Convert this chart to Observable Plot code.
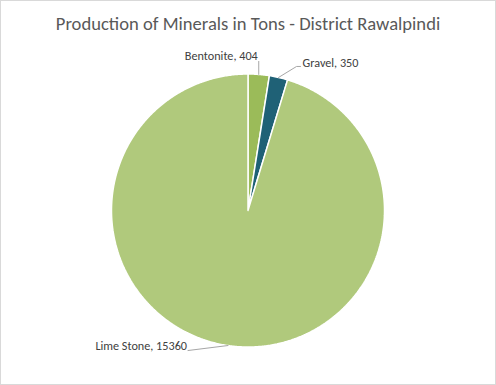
<!DOCTYPE html>
<html>
<head>
<meta charset="utf-8">
<script src="https://cdn.jsdelivr.net/npm/d3@7"></script>
<script src="https://cdn.jsdelivr.net/npm/@observablehq/plot@0.6"></script>
<style>
  html, body { margin: 0; padding: 0; background: #fff; }
  #chart { position: relative; width: 496px; height: 385px; box-sizing: border-box; border: 1px solid #d9d9d9; background: #fff; overflow: hidden; }
  #title { height: 30px; padding-top: 8px; line-height: 30px; text-align: center; font-family: Carlito, Calibri, Lato, sans-serif; font-size: 18.6px; color: #595959; white-space: nowrap; }
  svg { display: block; }
</style>
</head>
<body>
<div id="chart"><div id="title">Production of Minerals in Tons - District Rawalpindi</div></div>
<script>
const names = ["Bentonite", "Gravel", "Lime Stone"];
const values = [404, 350, 15360];
const colors = ["#9BBB59", "#1F6176", "#B0C97C"];

const R = 136.5; // pixels per data unit (pie radius)
const arcs = d3.pie().sort(null).startAngle(0).endAngle(2 * Math.PI)(values);

// slice outlines
const slicePts = [];
arcs.forEach((a, i) => {
  const n = Math.max(2, Math.ceil((a.endAngle - a.startAngle) / (Math.PI / 360)) + 1);
  slicePts.push({name: names[i], x: 0, y: 0});
  for (let k = 0; k < n; k++) {
    const t = a.startAngle + (a.endAngle - a.startAngle) * k / (n - 1);
    slicePts.push({name: names[i], x: Math.sin(t), y: Math.cos(t)});
  }
  slicePts.push({name: names[i], x: 0, y: 0});
});

// leader lines (pixel offsets from slice mid point, y down)
const leaderOffsets = [
  [[0, 0], [0, -13]],
  [[0, 0], [18, -11], [22, -11]],
  [[0, 0], [-40, 5]]
];
const textOpts = [
  {dx: -1, dy: -5, textAnchor: "end"},
  {dx: 2, dy: -3, textAnchor: "start"},
  {dx: -1, dy: -4, textAnchor: "end"}
];
const leaderPts = [];
const labelPts = [];
arcs.forEach((a, i) => {
  const m = (a.startAngle + a.endAngle) / 2;
  const mx = Math.sin(m), my = Math.cos(m);
  leaderOffsets[i].forEach(([ox, oy]) => leaderPts.push({name: names[i], x: mx + ox / R, y: my - oy / R}));
  const [lx, ly] = leaderOffsets[i][leaderOffsets[i].length - 1];
  labelPts.push({name: names[i], label: `${names[i]}, ${values[i]}`, x: mx + lx / R, y: my - ly / R});
});

const labelMarks = labelPts.map((d, i) => Plot.text([d], {
  x: "x", y: "y", text: "label", ...textOpts[i],
  fill: "#404040", fontSize: 12.2, fontFamily: "Carlito, Calibri, Lato, sans-serif"
}));

const plot = Plot.plot({
  width: 494,
  height: 345,
  marginLeft: 110,
  marginRight: 111,
  marginTop: 34.5,
  marginBottom: 37.5,
  x: {domain: [-1, 1], axis: null},
  y: {domain: [-1, 1], axis: null},
  color: {domain: names, range: colors},
  style: {background: "#fff", overflow: "visible"},
  marks: [
    Plot.line(slicePts, {x: "x", y: "y", z: "name", fill: "name", stroke: "white", strokeWidth: 1.5, strokeLinejoin: "miter", curve: "linear"}),
    Plot.line(leaderPts, {x: "x", y: "y", z: "name", stroke: "#a6a6a6", strokeWidth: 1, curve: "linear"}),
    ...labelMarks
  ]
});
document.getElementById("chart").appendChild(plot);
</script>
</body>
</html>
